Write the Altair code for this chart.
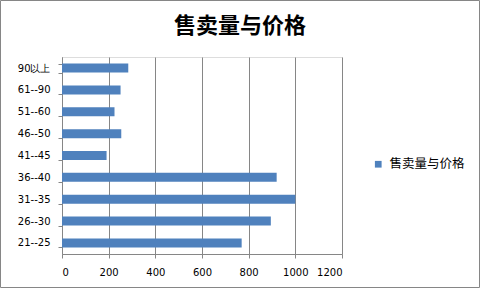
import altair as alt
import pandas as pd

categories = ["90以上", "61--90", "51--60", "46--50", "41--45", "36--40", "31--35", "26--30", "21--25"]
values = [284, 251, 225, 254, 191, 920, 1000, 895, 770]
series_name = "售卖量与价格"
x_ticks = [0, 200, 400, 600, 800, 1000, 1200]

df = pd.DataFrame({"range": categories, "value": values, "series": [series_name] * len(categories)})

W, H = 280, 197
gray = "#868686"

bars = alt.Chart(df).mark_bar(size=9).encode(
    y=alt.Y("range:N", sort=categories, title=None,
            scale=alt.Scale(paddingInner=0.59, paddingOuter=0.3),
            axis=alt.Axis(tickBand="extent", tickSize=4, tickColor=gray, domainColor=gray,
                          labelFont="DejaVu Sans", labelFontSize=10, labelColor="black",
                          labelPadding=8, grid=False)),
    x=alt.X("value:Q", title=None,
            scale=alt.Scale(domain=[0, 1200], nice=False),
            axis=alt.Axis(values=x_ticks, format="d", tickSize=4, tickColor=gray, domainColor=gray,
                          gridColor=gray, gridOpacity=1, grid=True,
                          labelFont="DejaVu Sans", labelFontSize=10, labelColor="black",
                          labelPadding=9)),
    color=alt.Color("series:N", scale=alt.Scale(range=["#4F81BD"]),
                    legend=alt.Legend(title=None, orient="none", legendX=310, legendY=101,
                                      symbolType="square", symbolSize=45, symbolStrokeWidth=0,
                                      labelFont="Noto Sans CJK SC", labelFontSize=12.5,
                                      labelColor="black", labelOffset=5)),
)

border = alt.Chart(pd.DataFrame({"b": [0]})).mark_rect(fill=None, stroke=gray, strokeWidth=1).encode(
    x=alt.value(-61.5), x2=alt.value(W + 137.5), y=alt.value(-56.5), y2=alt.value(H + 33.5)
)

chart = alt.layer(bars, border).properties(
    width=W, height=H,
    title=alt.TitleParams(series_name, font="Noto Sans CJK SC", fontSize=22, fontWeight="bold",
                          color="black", anchor="middle", dx=38, offset=-38),
    autosize=alt.AutoSizeParams(type="none"),
    padding={"left": 62, "top": 57, "right": 138, "bottom": 34},
).configure_view(stroke=None).configure(background="white")

chart.save("out.html", embed_options={"renderer": "svg", "actions": False})
